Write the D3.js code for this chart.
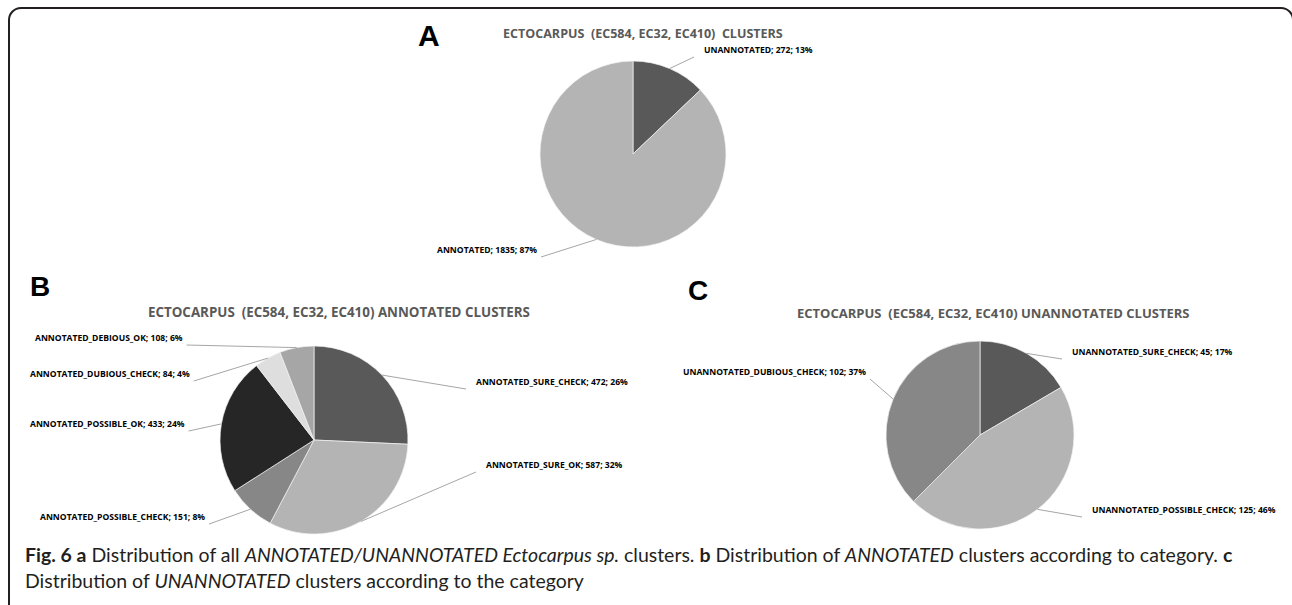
<!DOCTYPE html>
<html>
<head>
<meta charset="utf-8">
<script src="https://cdn.jsdelivr.net/npm/d3@7"></script>
<style>
  body { margin: 0; background: #fff; }
  svg { display: block; }
  text { white-space: pre; }
</style>
</head>
<body>
<div id="fig"></div>
<script>
// ---- data ----
// panel A
var catsA = ["UNANNOTATED", "ANNOTATED"];
var valsA = [272, 1835];
var pctA  = [13, 87];
// panel B
var catsB = ["ANNOTATED_SURE_CHECK", "ANNOTATED_SURE_OK", "ANNOTATED_POSSIBLE_CHECK",
             "ANNOTATED_POSSIBLE_OK", "ANNOTATED_DUBIOUS_CHECK", "ANNOTATED_DEBIOUS_OK"];
var valsB = [472, 587, 151, 433, 84, 108];
var pctB  = [26, 32, 8, 24, 4, 6];
// panel C
var catsC = ["UNANNOTATED_SURE_CHECK", "UNANNOTATED_POSSIBLE_CHECK", "UNANNOTATED_DUBIOUS_CHECK"];
var valsC = [45, 125, 102];
var pctC  = [17, 46, 37];

var titleA = "ECTOCARPUS  (EC584, EC32, EC410)  CLUSTERS";
var titleB = "ECTOCARPUS  (EC584, EC32, EC410) ANNOTATED CLUSTERS";
var titleC = "ECTOCARPUS  (EC584, EC32, EC410) UNANNOTATED CLUSTERS";

// ---- layout ----
var W = 1292, H = 605;
var svg = d3.select("#fig").append("svg")
    .attr("width", W)
    .attr("height", H);

var labelFont = "'Open Sans', 'Noto Sans', sans-serif";

// figure frame (bottom and right run off the page)
svg.append("rect")
    .attr("x", 9).attr("y", 8)
    .attr("width", 1284).attr("height", 640)
    .attr("rx", 12).attr("ry", 12)
    .attr("fill", "none")
    .attr("stroke", "#231f20")
    .attr("stroke-width", 2);

// font size that makes a string a given width
function fitSize(txt, family, weight, target) {
  var t = svg.append("text")
      .style("font-family", family)
      .style("font-weight", weight)
      .style("font-size", "100px")
      .text(txt);
  var w = t.node().getComputedTextLength();
  t.remove();
  return 100 * target / w;
}

var labelSize = fitSize("ANNOTATED_SURE_CHECK; 472; 26%", labelFont, 700, 152);

var panels = [
  { cats: catsA, vals: valsA, pct: pctA, title: titleA,
    cx: 633, cy: 154, r: 93,
    tx: 503, ty: 38, tw: 280,
    letter: "A", lx: 418, ly: 46, ls: 30,
    colors: ["#595959", "#b4b4b4"],
    labels: [[704, 53], [437, 253]] },
  { cats: catsB, vals: valsB, pct: pctB, title: titleB,
    cx: 314, cy: 440, r: 94,
    tx: 148, ty: 317, tw: 382,
    letter: "B", lx: 30, ly: 296, ls: 28,
    colors: ["#595959", "#b4b4b4", "#878787", "#262626", "#dedede", "#a6a6a6"],
    labels: [[476, 385], [486, 468], [40, 520], [30, 427], [30, 377], [35, 341]] },
  { cats: catsC, vals: valsC, pct: pctC, title: titleC,
    cx: 980, cy: 435, r: 94,
    tx: 797, ty: 318, tw: 393,
    letter: "C", lx: 688, ly: 300, ls: 28,
    colors: ["#595959", "#b4b4b4", "#878787"],
    labels: [[1072, 355], [1092, 513], [683, 375]] }
];

panels.forEach(function(p) {
  // panel letter
  svg.append("text")
      .attr("x", p.lx).attr("y", p.ly)
      .style("font-family", "'Liberation Sans', Arial, sans-serif")
      .style("font-weight", 700)
      .style("font-size", p.ls + "px")
      .attr("fill", "#000")
      .text(p.letter);

  // chart title
  var ts = fitSize(p.title, labelFont, 700, p.tw);
  svg.append("text")
      .attr("x", p.tx).attr("y", p.ty)
      .style("font-family", labelFont)
      .style("font-weight", 700)
      .style("font-size", ts + "px")
      .attr("fill", "#595959")
      .text(p.title);

  var color = d3.scaleOrdinal().domain(p.cats).range(p.colors);

  var pie = d3.pie().sort(null).value(function(d) { return d.v; });
  var rows = p.cats.map(function(c, i) { return { cat: c, v: p.vals[i], pct: p.pct[i] }; });
  var arcs = pie(rows);

  var arc = d3.arc().innerRadius(0).outerRadius(p.r);
  var edge = d3.arc().innerRadius(p.r).outerRadius(p.r);

  var g = svg.append("g")
      .attr("transform", "translate(" + p.cx + "," + p.cy + ")");

  g.selectAll("path")
    .data(arcs)
    .enter().append("path")
      .attr("d", arc)
      .attr("fill", function(d) { return color(d.data.cat); })
      .attr("stroke", "#f4f4f4")
      .attr("stroke-width", 0.7);

  // data labels with leader lines
  arcs.forEach(function(d, i) {
    var pos = p.labels[i];
    var t = svg.append("text")
        .attr("x", pos[0]).attr("y", pos[1])
        .style("font-family", labelFont)
        .style("font-weight", 700)
        .style("font-size", labelSize + "px")
        .attr("fill", "#000")
        .text(d.data.cat + "; " + d.data.v + "; " + d.data.pct + "%");
    var w = t.node().getComputedTextLength();
    var c = edge.centroid(d);
    var sx = p.cx + c[0], sy = p.cy + c[1];
    var ex, ey;
    if (pos[0] > p.cx) {
      ex = pos[0] - 10; ey = pos[1] + 4;
    } else {
      ex = pos[0] + w + 4; ey = pos[1] + 4;
    }
    svg.append("line")
        .attr("x1", sx).attr("y1", sy)
        .attr("x2", ex).attr("y2", ey)
        .attr("stroke", "#a6a6a6")
        .attr("stroke-width", 1);
  });
});

// caption
var capFont = "Lato, 'Open Sans', sans-serif";
var cap1 = [
  { t: "Fig. 6 a", b: true },
  { t: " Distribution of all " },
  { t: "ANNOTATED/UNANNOTATED Ectocarpus sp.", i: true },
  { t: " clusters. " },
  { t: "b", b: true },
  { t: " Distribution of " },
  { t: "ANNOTATED", i: true },
  { t: " clusters according to category. " },
  { t: "c", b: true }
];
var cap2 = [
  { t: "Distribution of " },
  { t: "UNANNOTATED", i: true },
  { t: " clusters according to the category" }
];

function caption(parts, x, y, size) {
  var t = svg.append("text")
      .attr("x", x).attr("y", y)
      .style("font-family", capFont)
      .style("font-size", size + "px")
      .attr("fill", "#231f20");
  parts.forEach(function(s) {
    t.append("tspan")
        .style("font-weight", s.b ? 700 : 400)
        .style("font-style", s.i ? "italic" : "normal")
        .text(s.t);
  });
  return t;
}

var probe = caption(cap1, 25, 562, 100);
var capSize = 100 * 1208 / probe.node().getComputedTextLength();
probe.remove();
caption(cap1, 25, 562, capSize);
caption(cap2, 25, 588, capSize);
</script>
</body>
</html>
